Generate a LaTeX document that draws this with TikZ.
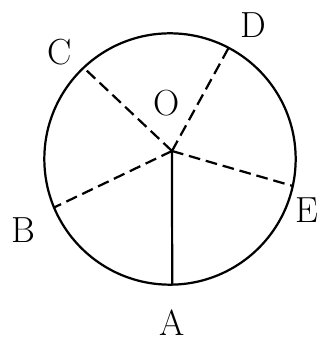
\documentclass[tikz,border=0pt]{standalone}
\usepackage{tikz}

\begin{document}
\begin{tikzpicture}[line width=1.9pt,
    radius line/.style={dash pattern=on 10pt off 5pt},
    letter/.style={font=\fontsize{31}{34}\selectfont, inner sep=1pt}]

    \useasboundingbox (-5.1, -5.49) rectangle (4.5, 4.77);

    % circle and centre
        \draw (0, 0) circle (3.77);
        \coordinate (O) at (0.06, 0.24);

        %% points on the circle
        \coordinate (A) at (-89:3.77);
        \coordinate (B) at (202.7:3.77);
        \coordinate (C) at (133.4:3.77);
        \coordinate (D) at (62.2:3.77);
        \coordinate (E) at (-12.4:3.77);

    % radii
        \draw (O) -- (A);
        \draw [radius line] (O) -- (B);
        \draw [radius line] (O) -- (C);
        \draw [radius line] (O) -- (D);
        \draw [radius line] (O) -- (E);

    % labels
        \node [letter] (lA) at (0.06, -4.9) {A};
        \node [letter] (lB) at (-4.41, -2.13) {B};
        \node [letter] (lC) at (-3.3, 3.21) {C};
        \node [letter] (lD) at (2.49, 4.02) {D};
        \node [letter] (lE) at (4.11, -1.53) {E};
        \node [letter] (lO) at (-0.09, 1.68) {O};

\end{tikzpicture}
\end{document}
